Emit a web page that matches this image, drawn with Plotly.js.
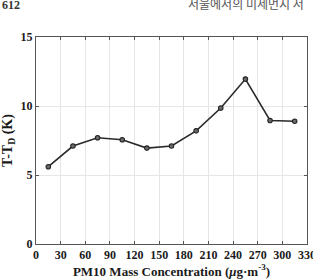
<!DOCTYPE html>
<html>
<head>
<meta charset="utf-8">
<script src="https://cdn.plot.ly/plotly-3.0.1.min.js"></script>
<style>
  html, body { margin: 0; padding: 0; background: #ffffff; }
  #chart { width: 313px; height: 279px; }
</style>
</head>
<body>
<div id="chart"></div>
<script>
// PM10 concentration bins (µg·m^-3) and mean dew-point depression (K)
const pm10 = [15, 45, 75, 105, 135, 165, 195, 225, 255, 285, 315];
const depression = [5.6, 7.1, 7.7, 7.55, 6.95, 7.1, 8.2, 9.85, 11.95, 8.95, 8.9];
const xTicks = [0, 30, 60, 90, 120, 150, 180, 210, 240, 270, 300, 330];
const yTicks = [0, 5, 10, 15];

const serif = "Liberation Serif, Times New Roman, serif";

const trace = {
  x: pm10,
  y: depression,
  type: "scatter",
  mode: "lines+markers",
  line: { color: "#2a2a2a", width: 1.6 },
  marker: { symbol: "circle", size: 4.5, color: "#6a6a6a", line: { color: "#222222", width: 1.1 } },
  hoverinfo: "skip"
};

const axisCommon = {
  showline: true,
  linecolor: "#555555",
  linewidth: 1,
  mirror: "ticks",
  ticks: "inside",
  ticklen: 3,
  tickcolor: "#555555",
  showgrid: true,
  gridcolor: "#e6e6e6",
  gridwidth: 1,
  zeroline: false,
  ticklabeloverflow: "allow",
  tickfont: { family: serif, size: 12, color: "#1a1a1a", weight: "bold" }
};

const layout = {
  width: 313,
  height: 279,
  margin: { l: 36, r: 6, t: 37, b: 35 },
  paper_bgcolor: "#ffffff",
  plot_bgcolor: "#ffffff",
  showlegend: false,
  xaxis: Object.assign({}, axisCommon, {
    range: [0, 330],
    tickvals: xTicks,
    ticktext: xTicks.map(String),
    title: {
      text: "PM10 Mass Concentration (<i>μ</i>g·m<sup>-3</sup>)",
      font: { family: serif, size: 13, color: "#1a1a1a", weight: "bold" },
      standoff: 3
    }
  }),
  yaxis: Object.assign({}, axisCommon, {
    range: [0, 15],
    tickvals: yTicks,
    ticktext: yTicks.map(String),
    title: {
      text: "T-T<sub>D</sub> (K)",
      font: { family: serif, size: 14, color: "#1a1a1a", weight: "bold" },
      standoff: 6
    }
  }),
  annotations: [
    {
      text: "612",
      xref: "paper", yref: "paper",
      x: -0.133, y: 1.155,
      xanchor: "left", yanchor: "middle",
      showarrow: false,
      font: { family: serif, size: 12, color: "#333333", weight: "bold" }
    },
    {
      text: "서울에서의 미세먼지 저",
      xref: "paper", yref: "paper",
      x: 0.555, y: 1.16,
      xanchor: "left", yanchor: "middle",
      showarrow: false,
      font: { family: "Noto Sans CJK KR", size: 12, color: "#555555" }
    }
  ]
};

Plotly.newPlot("chart", [trace], layout, { staticPlot: true, displayModeBar: false });
</script>
</body>
</html>
